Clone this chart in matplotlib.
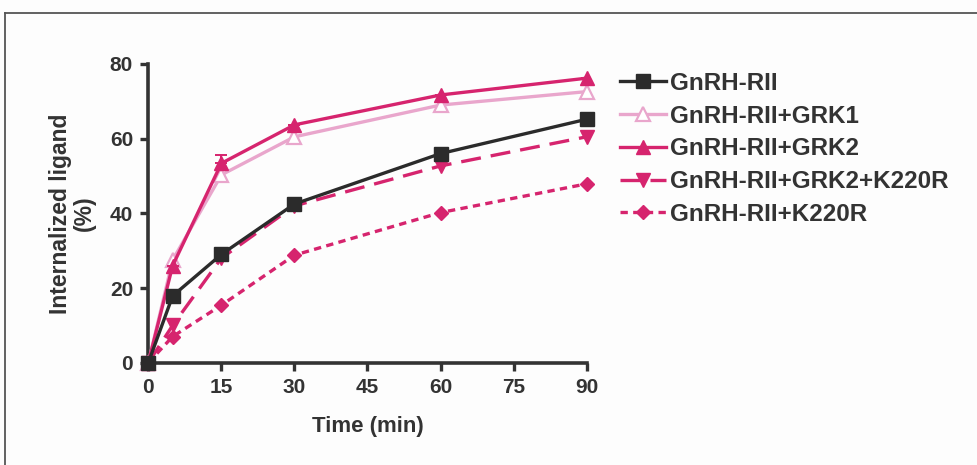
import matplotlib
matplotlib.use("Agg")
import matplotlib.pyplot as plt
from matplotlib.lines import Line2D

# ── Data ──────────────────────────────────────────────────────────────────────
time_min = [0, 5, 15, 30, 60, 90]

wt         = [0, 17.9, 29.0, 42.5, 56.0, 65.2]
wt_grk1    = [0, 27.5, 50.3, 60.5, 69.0, 72.6]
wt_grk2    = [0, 26.0, 53.4, 63.7, 71.7, 76.2]
grk2_k220r = [0, 10.0, 28.0, 42.0, 52.7, 60.5]
k220r      = [0, 7.0, 15.4, 28.8, 40.2, 47.9]

grk2_err = [0, 0, 2.3, 0, 0, 0]

labels = [
    "GnRH-RII",
    "GnRH-RII+GRK1",
    "GnRH-RII+GRK2",
    "GnRH-RII+GRK2+K220R",
    "GnRH-RII+K220R",
]
x_ticks = [0, 15, 30, 45, 60, 75, 90]
y_ticks = [0, 20, 40, 60, 80]

# ── Style ─────────────────────────────────────────────────────────────────────
BLACK = "#2b2b2b"
PINK = "#e9a6cc"
MAGENTA = "#d6246e"
TEXT = "#333333"

plt.rcParams["font.family"] = ["Liberation Sans", "DejaVu Sans"]
plt.rcParams["font.weight"] = "bold"

fig = plt.figure(figsize=(9.77, 4.65), dpi=100)
fig.patch.set_facecolor("#fdfdfd")
ax = fig.add_axes([0.1518, 0.22, 0.4487, 0.6424])
ax.set_facecolor("none")

common = dict(lw=2.4, clip_on=False)

ax.plot(time_min, k220r, color=MAGENTA, ls=(0, (2.2, 1.6)), marker="D",
        ms=7.5, label=labels[4], zorder=2, **common)
ax.plot(time_min, grk2_k220r, color=MAGENTA, ls=(0, (6, 3)), marker="v",
        ms=9.5, label=labels[3], zorder=3, **common)
ax.plot(time_min, wt_grk1, color=PINK, marker="^", ms=9.5, mfc="white",
        mec=PINK, mew=1.6, label=labels[1], zorder=4, **common)
ax.errorbar(time_min, wt_grk2, yerr=[[0] * len(grk2_err), grk2_err],
            fmt="none", ecolor=MAGENTA, capsize=4, capthick=1.4,
            elinewidth=1.4, zorder=5)
ax.plot(time_min, wt_grk2, color=MAGENTA, marker="^", ms=9.5,
        label=labels[2], zorder=5, **common)
ax.plot(time_min, wt, color=BLACK, marker="s", ms=10.5, label=labels[0],
        zorder=6, **common)

ax.set_xlim(0, 90)
ax.set_ylim(0, 80)
ax.set_xticks(x_ticks)
ax.set_yticks(y_ticks)

for side in ("top", "right"):
    ax.spines[side].set_visible(False)
for side in ("left", "bottom"):
    ax.spines[side].set_color(TEXT)
    ax.spines[side].set_linewidth(2.6)
ax.tick_params(axis="both", colors=TEXT, width=2.4, length=6, labelsize=15,
               pad=5)
for t in ax.get_xticklabels() + ax.get_yticklabels():
    t.set_fontweight("bold")

ax.set_xlabel("Time (min)", fontsize=16, color=TEXT, fontweight="bold",
              labelpad=14)
ax.set_ylabel("Internalized ligand\n(%)", fontsize=16.5, color=TEXT,
              fontweight="bold", labelpad=10, linespacing=1.05)

# legend in the order of the key
handles, hlabels = ax.get_legend_handles_labels()
order = [hlabels.index(l) for l in labels]
leg = fig.legend([handles[i] for i in order], [hlabels[i] for i in order],
                 loc="upper left", bbox_to_anchor=(620 / 977, 1 - 72 / 465),
                 frameon=False, fontsize=17.5, handlelength=1.9,
                 handletextpad=0.15, labelspacing=0.4, borderaxespad=0,
                 borderpad=0)
for t in leg.get_texts():
    t.set_color(TEXT)
    t.set_fontweight("bold")

# thin page frame along the top and left edges
fig.add_artist(Line2D([5 / 977, 1.0], [1 - 13 / 465, 1 - 13 / 465],
                      transform=fig.transFigure, color="#555555", lw=1.3))
fig.add_artist(Line2D([5 / 977, 5 / 977], [0.0, 1 - 13 / 465],
                      transform=fig.transFigure, color="#555555", lw=1.3))

fig.savefig("out.png", dpi=100, facecolor=fig.get_facecolor())
